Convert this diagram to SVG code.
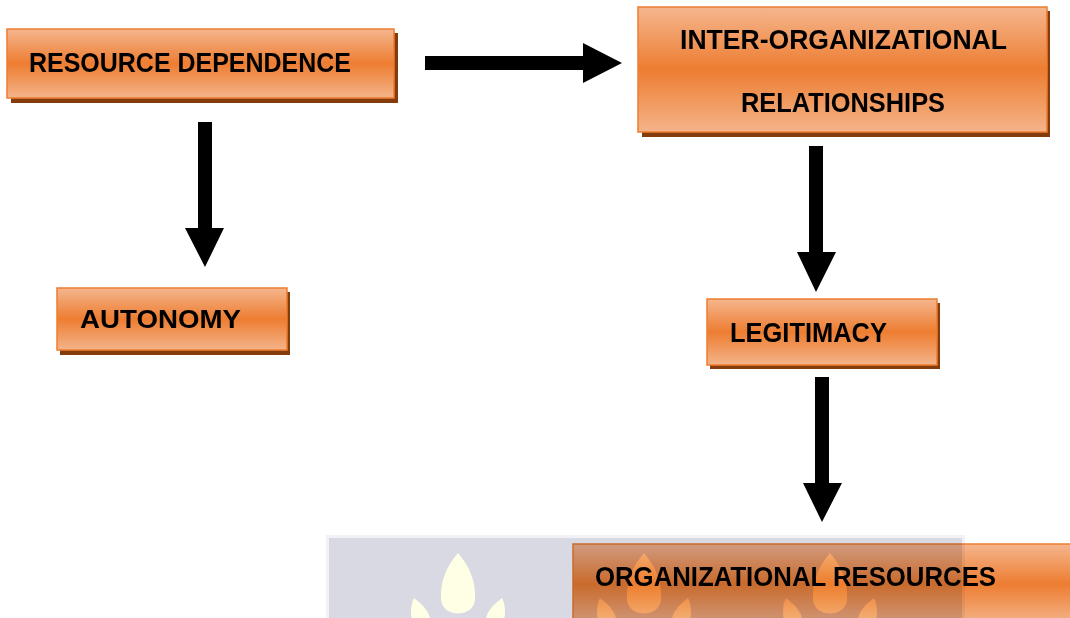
<svg xmlns="http://www.w3.org/2000/svg" width="1070" height="618" viewBox="0 0 1070 618">
<defs>
<linearGradient id="og" x1="0" y1="0" x2="0" y2="1">
<stop offset="0" stop-color="#F5B68E"/>
<stop offset="0.5" stop-color="#ED7D31"/>
<stop offset="1" stop-color="#F4B48A"/>
</linearGradient>
</defs>
<style>
.sh{fill:#843C0C}
.bx{fill:url(#og);stroke:#ED7D31;stroke-width:1.5}
.t{font-family:"Liberation Sans",Arial,sans-serif;font-weight:bold;font-size:28px;fill:#000}
.ar{fill:#000}
</style>
<rect width="1070" height="618" fill="#fff"/>
<g id="connectors">
<path class="ar" d="M425,56 H583 V43 L622,63 L583,83 V70 H425 Z"/>
<path class="ar" d="M198,122 H212 V228 H224 L205,267 L185,228 H198 Z"/>
<path class="ar" d="M809,146 H823 V252 H836 L816,292 L797,252 H809 Z"/>
<path class="ar" d="M815,377 H829 V483 H842 L822,522 L803,483 H815 Z"/>
</g>
<g id="node-resource-dependence">
<rect class="sh" x="11" y="33" width="387" height="70"/>
<rect class="bx" x="7" y="29" width="387" height="69"/>
<text class="t" x="29" y="72" textLength="322" lengthAdjust="spacingAndGlyphs">RESOURCE DEPENDENCE</text>
</g>
<g id="node-inter-organizational">
<rect class="sh" x="642" y="11" width="408" height="126"/>
<rect class="bx" x="638" y="7" width="409" height="125"/>
<text class="t" x="680" y="49" textLength="327" lengthAdjust="spacingAndGlyphs">INTER-ORGANIZATIONAL</text>
<text class="t" x="741" y="112" textLength="204" lengthAdjust="spacingAndGlyphs">RELATIONSHIPS</text>
</g>
<g id="node-autonomy">
<rect class="sh" x="60" y="292" width="230" height="63"/>
<rect class="bx" x="57" y="288" width="230" height="62"/>
<text class="t" x="80" y="328" style="font-size:26px" textLength="161" lengthAdjust="spacingAndGlyphs">AUTONOMY</text>
</g>
<g id="node-legitimacy">
<rect class="sh" x="710" y="303" width="230" height="66"/>
<rect class="bx" x="707" y="299" width="230" height="66"/>
<text class="t" x="730" y="342" textLength="157" lengthAdjust="spacingAndGlyphs">LEGITIMACY</text>
</g>
<g id="node-organizational-resources">
<rect class="sh" x="577" y="548" width="500" height="80"/>
<rect class="bx" x="573" y="544" width="505" height="80"/>
<text class="t" x="595" y="586" textLength="401" lengthAdjust="spacingAndGlyphs">ORGANIZATIONAL RESOURCES</text>
</g>
<g id="watermark" style="mix-blend-mode:multiply">
<rect x="326" y="535" width="639" height="90" fill="#F2F2F6"/>
<rect x="329" y="538" width="633" height="90" fill="#D9D9E4"/>
<g fill="#FFFFE6">
<path d="M458,553 C469,566 476,580 475,600 C473,618 443,618 441,600 C440,580 447,566 458,553 Z"/>
<path d="M414,598 C422,604 430,612 430,620 L412,620 C410,612 411,604 414,598 Z"/>
<path d="M502,598 C505,604 506,612 504,620 L486,620 C486,612 494,604 502,598 Z"/>
<path d="M644,553 C655,566 662,580 661,600 C659,618 629,618 627,600 C626,580 633,566 644,553 Z"/>
<path d="M600,598 C608,604 616,612 616,620 L598,620 C596,612 597,604 600,598 Z"/>
<path d="M688,598 C691,604 692,612 690,620 L672,620 C672,612 680,604 688,598 Z"/>
<path d="M830,553 C841,566 848,580 847,600 C845,618 815,618 813,600 C812,580 819,566 830,553 Z"/>
<path d="M786,598 C794,604 802,612 802,620 L784,620 C782,612 783,604 786,598 Z"/>
<path d="M874,598 C877,604 878,612 876,620 L858,620 C858,612 866,604 874,598 Z"/>
</g>
</g>
</svg>
